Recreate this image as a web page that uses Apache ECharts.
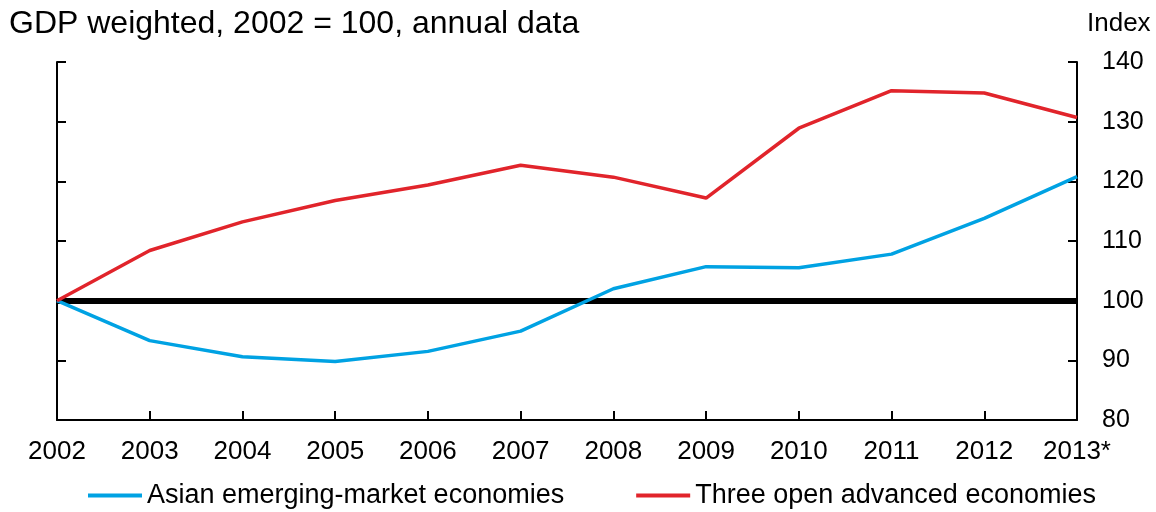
<!DOCTYPE html>
<html>
<head>
<meta charset="utf-8">
<script src="https://cdn.jsdelivr.net/npm/echarts@6/dist/echarts.min.js"></script>
<style>
  html, body { margin: 0; padding: 0; background: #fff; }
  #chart { width: 1156px; height: 512px; }
</style>
</head>
<body>
<div id="chart"></div>
<script>
const years = ['2002', '2003', '2004', '2005', '2006', '2007', '2008', '2009', '2010', '2011', '2012', '2013*']
const asian = [100, 93.3, 90.6, 89.8, 91.5, 94.9, 102.0, 105.7, 105.5, 107.8, 113.8, 120.8]
const advanced = [100, 108.4, 113.2, 116.8, 119.4, 122.7, 120.7, 117.2, 128.9, 135.2, 134.8, 130.7]
const seriesNames = ['Asian emerging-market economies', 'Three open advanced economies']
const yMin = 80
const yMax = 140
const yStep = 10

const font = 'Liberation Sans, Arial, sans-serif'
const chart = echarts.init(document.getElementById('chart'))

const yCommon = {
  type: 'value',
  min: yMin,
  max: yMax,
  interval: yStep,
  splitLine: { show: false },
  axisLine: { show: true, lineStyle: { color: '#000', width: 2 } },
  axisTick: { show: true, inside: true, length: 9, lineStyle: { color: '#000', width: 2 } }
}

chart.setOption({
  animation: false,
  title: {
    text: 'GDP weighted, 2002 = 100, annual data',
    left: 9,
    top: 8,
    padding: 0,
    textStyle: { fontFamily: font, fontSize: 32, fontWeight: 'normal', color: '#000' }
  },
  grid: { left: 57, right: 79, top: 62, bottom: 92 },
  legend: {
    top: 482,
    left: 88,
    padding: 0,
    itemGap: 72,
    itemWidth: 54,
    itemHeight: 4,
    icon: 'rect',
    textStyle: { fontFamily: font, fontSize: 27, color: '#000' },
    data: seriesNames
  },
  xAxis: {
    type: 'category',
    data: years,
    boundaryGap: false,
    axisLine: { lineStyle: { color: '#000', width: 2 } },
    axisTick: { inside: true, length: 9, lineStyle: { color: '#000', width: 2 } },
    axisLabel: { margin: 19, fontFamily: font, fontSize: 26, color: '#000' }
  },
  yAxis: [
    Object.assign({}, yCommon, {
      position: 'right',
      name: 'Index',
      nameLocation: 'end',
      nameGap: 25,
      nameTextStyle: { fontFamily: font, fontSize: 26, color: '#000', align: 'left', padding: [0, 0, 0, 10] },
      axisLabel: { margin: 25, fontFamily: font, fontSize: 25, color: '#000' }
    }),
    Object.assign({}, yCommon, {
      position: 'left',
      axisLabel: { show: false }
    })
  ],
  series: [
    {
      name: seriesNames[0],
      type: 'line',
      data: asian,
      showSymbol: false,
      symbol: 'none',
      z: 3,
      color: '#00a2e3',
      lineStyle: { width: 3.5, color: '#00a2e3' }
    },
    {
      name: seriesNames[1],
      type: 'line',
      data: advanced,
      showSymbol: false,
      symbol: 'none',
      z: 3,
      color: '#e1242b',
      lineStyle: { width: 3.5, color: '#e1242b' },
      markLine: {
        silent: true,
        symbol: 'none',
        z: 2,
        label: { show: false },
        lineStyle: { type: 'solid', color: '#000', width: 6 },
        data: [{ yAxis: 100 }]
      }
    }
  ]
})
</script>
</body>
</html>
